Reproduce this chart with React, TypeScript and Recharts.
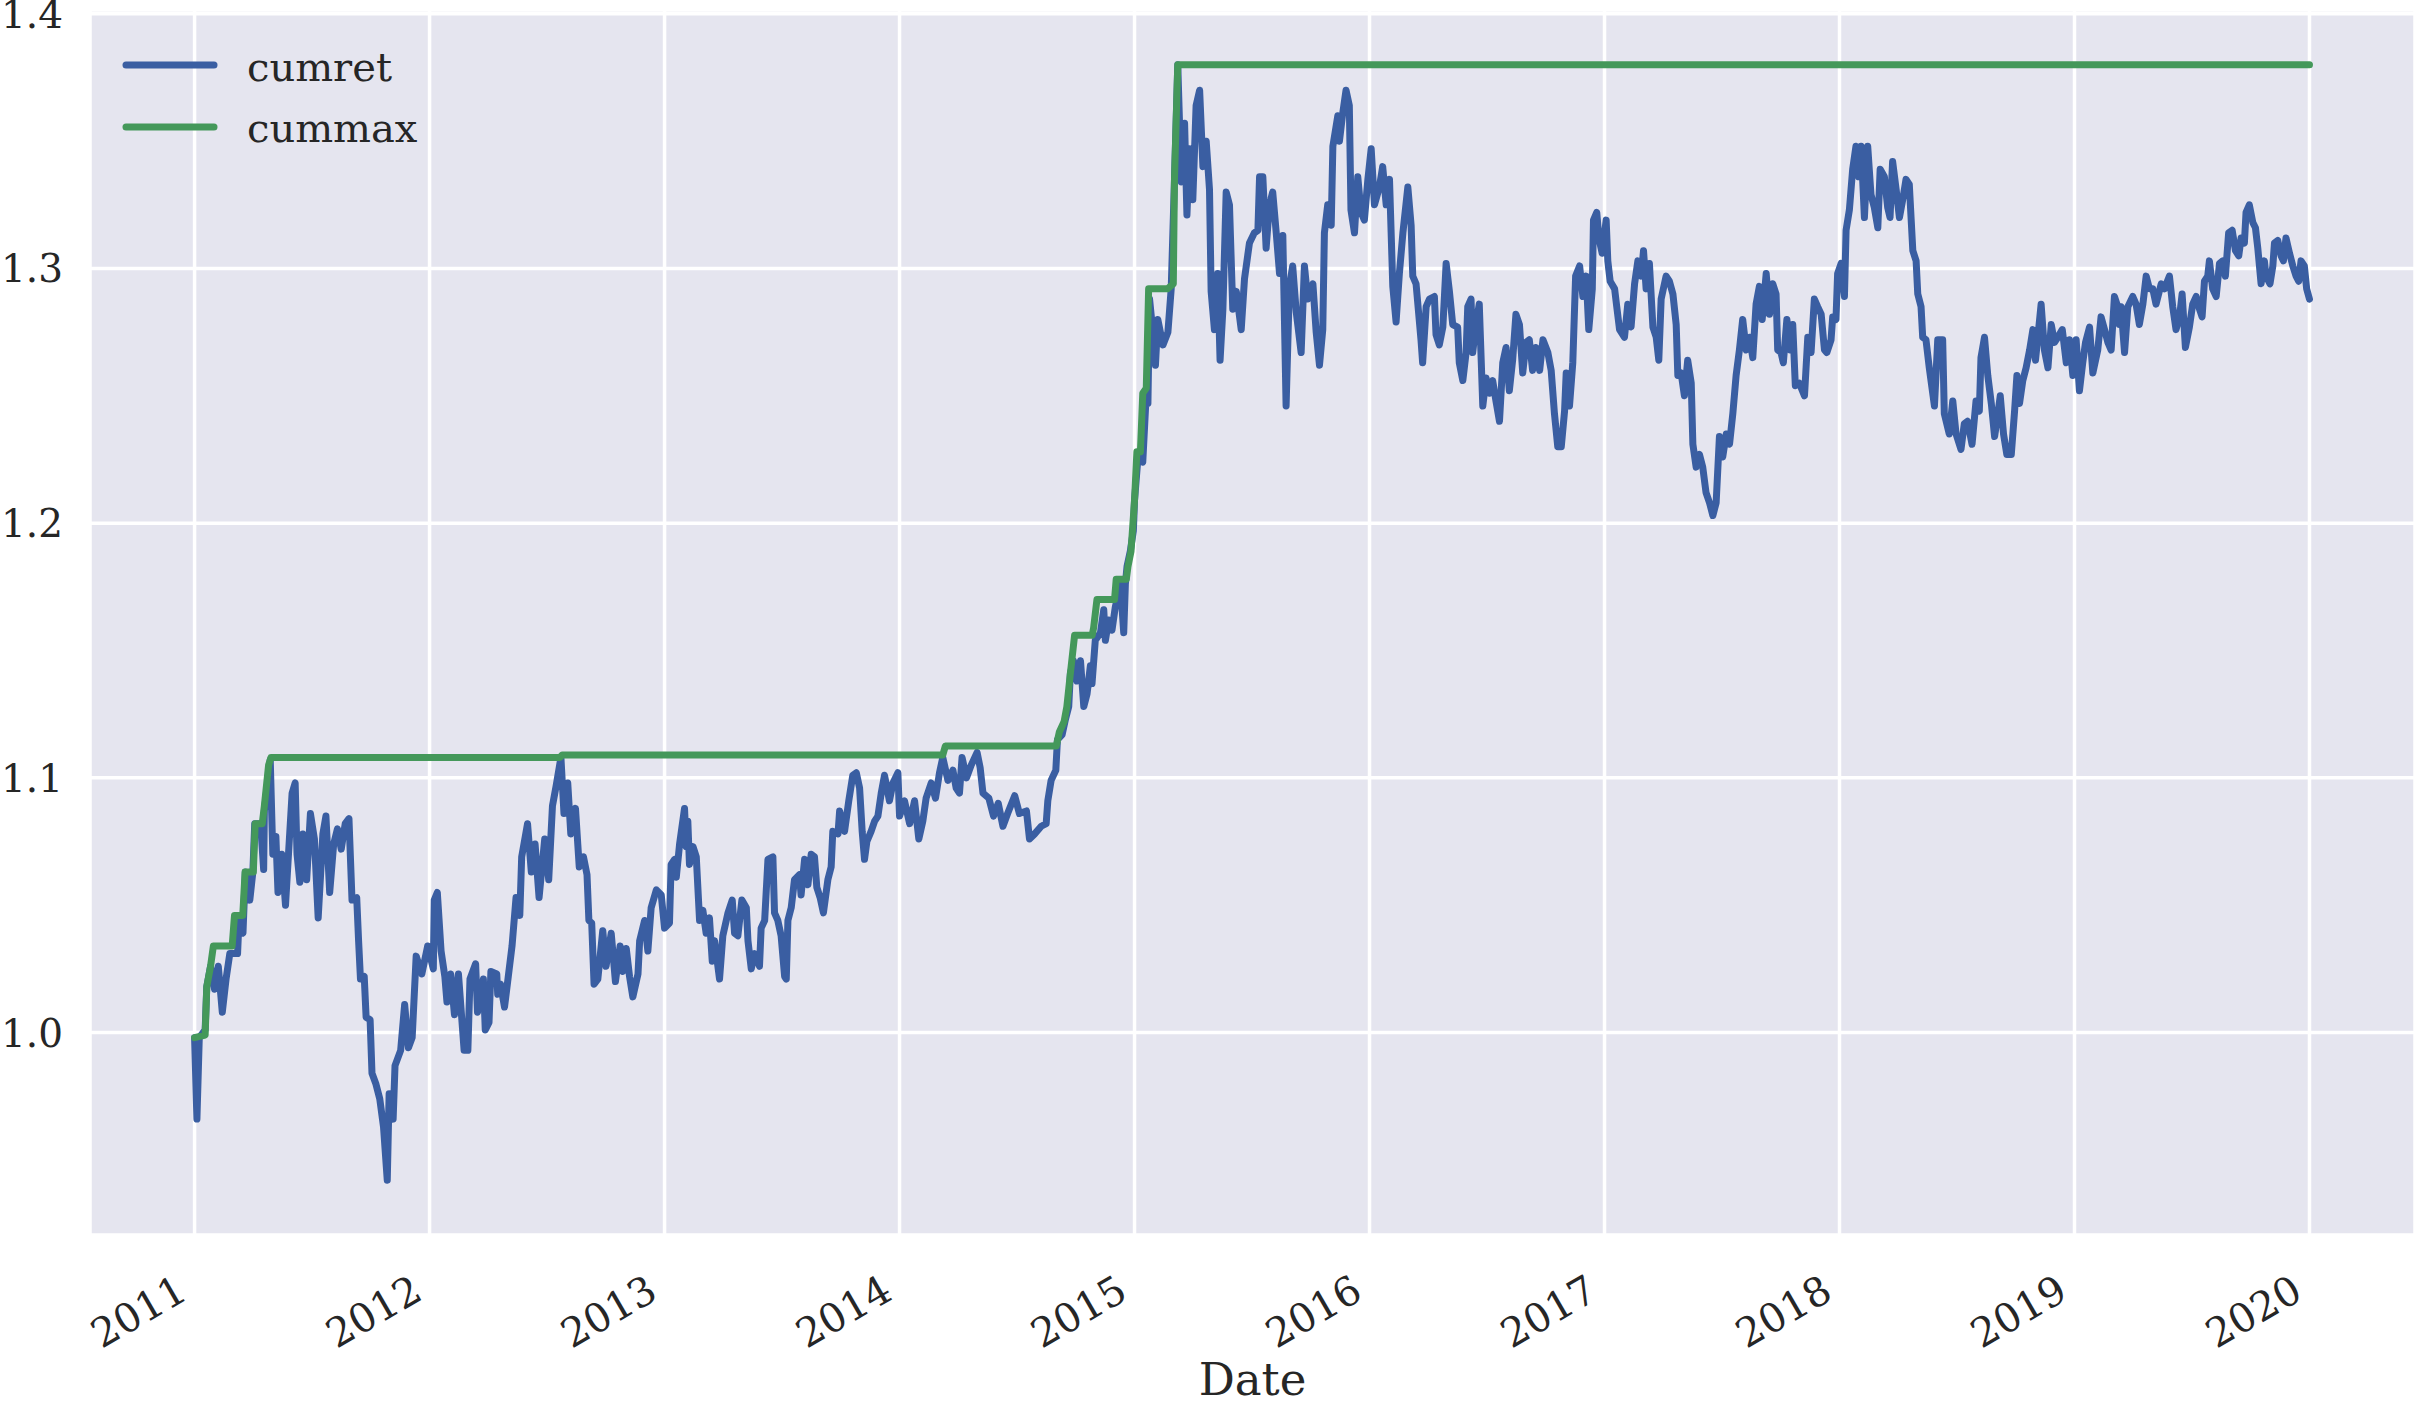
import React from 'react';
import { LineChart, Line, XAxis, YAxis, CartesianGrid, Legend } from 'recharts';

const FONT = '"DejaVu Serif", serif';
const TEXT_COLOR = '#262626';
const BLUE = '#3A5EA2';
const GREEN = '#44985A';
const LINE_W = 7;

const yearTicks = [2011, 2012, 2013, 2014, 2015, 2016, 2017, 2018, 2019, 2020];
const valueTicks = [1.0, 1.1, 1.2, 1.3, 1.4];
const seriesNames = ['cumret', 'cummax'];

// dates as fractional years
const cumretDates = [
  2011.000, 2011.010, 2011.020, 2011.045, 2011.052, 2011.068, 2011.085, 2011.101, 2011.118, 2011.134,
  2011.150, 2011.183, 2011.190, 2011.206, 2011.216, 2011.235, 2011.248, 2011.256, 2011.281, 2011.294,
  2011.297, 2011.322, 2011.333, 2011.346, 2011.355, 2011.371, 2011.387, 2011.399, 2011.415, 2011.428,
  2011.436, 2011.448, 2011.461, 2011.477, 2011.493, 2011.510, 2011.526, 2011.546, 2011.559, 2011.575,
  2011.592, 2011.608, 2011.624, 2011.641, 2011.657, 2011.670, 2011.690, 2011.698, 2011.706, 2011.722,
  2011.730, 2011.747, 2011.755, 2011.771, 2011.788, 2011.804, 2011.820, 2011.828, 2011.845, 2011.853,
  2011.877, 2011.894, 2011.910, 2011.926, 2011.943, 2011.967, 2011.992, 2012.016, 2012.020, 2012.033,
  2012.049, 2012.065, 2012.074, 2012.090, 2012.106, 2012.123, 2012.147, 2012.163, 2012.172, 2012.196,
  2012.204, 2012.229, 2012.237, 2012.253, 2012.261, 2012.286, 2012.290, 2012.302, 2012.319, 2012.335,
  2012.351, 2012.368, 2012.384, 2012.392, 2012.417, 2012.433, 2012.449, 2012.466, 2012.490, 2012.507,
  2012.523, 2012.539, 2012.559, 2012.572, 2012.588, 2012.601, 2012.621, 2012.637, 2012.655, 2012.670,
  2012.678, 2012.690, 2012.700, 2012.716, 2012.737, 2012.751, 2012.773, 2012.791, 2012.811, 2012.822,
  2012.837, 2012.851, 2012.865, 2012.887, 2012.894, 2012.915, 2012.929, 2012.943, 2012.965, 2012.986,
  2013.000, 2013.021, 2013.028, 2013.043, 2013.050, 2013.064, 2013.085, 2013.092, 2013.099, 2013.106,
  2013.121, 2013.135, 2013.149, 2013.163, 2013.177, 2013.191, 2013.203, 2013.213, 2013.234, 2013.248,
  2013.270, 2013.288, 2013.298, 2013.312, 2013.329, 2013.348, 2013.355, 2013.369, 2013.383, 2013.404,
  2013.411, 2013.426, 2013.440, 2013.461, 2013.468, 2013.482, 2013.496, 2013.511, 2013.518, 2013.525,
  2013.539, 2013.553, 2013.574, 2013.581, 2013.596, 2013.610, 2013.624, 2013.638, 2013.648, 2013.662,
  2013.676, 2013.695, 2013.709, 2013.716, 2013.738, 2013.745, 2013.766, 2013.784, 2013.801, 2013.816,
  2013.830, 2013.841, 2013.851, 2013.861, 2013.879, 2013.894, 2013.908, 2013.922, 2013.936, 2013.957,
  2013.972, 2013.993, 2014.000, 2014.021, 2014.043, 2014.064, 2014.082, 2014.099, 2014.113, 2014.135,
  2014.153, 2014.170, 2014.184, 2014.206, 2014.227, 2014.241, 2014.255, 2014.266, 2014.285, 2014.305,
  2014.330, 2014.343, 2014.355, 2014.380, 2014.400, 2014.420, 2014.440, 2014.460, 2014.490, 2014.510,
  2014.540, 2014.553, 2014.575, 2014.603, 2014.624, 2014.631, 2014.645, 2014.665, 2014.672, 2014.692,
  2014.706, 2014.720, 2014.727, 2014.740, 2014.755, 2014.770, 2014.784, 2014.798, 2014.812, 2014.819,
  2014.833, 2014.855, 2014.869, 2014.876, 2014.890, 2014.904, 2014.918, 2014.940, 2014.954, 2014.961,
  2014.968, 2014.982, 2014.995, 2015.000, 2015.014, 2015.035, 2015.050, 2015.057, 2015.064, 2015.078,
  2015.089, 2015.099, 2015.121, 2015.142, 2015.156, 2015.170, 2015.184, 2015.199, 2015.213, 2015.223,
  2015.234, 2015.248, 2015.262, 2015.277, 2015.291, 2015.305, 2015.319, 2015.326, 2015.340, 2015.354,
  2015.364, 2015.376, 2015.390, 2015.404, 2015.418, 2015.433, 2015.454, 2015.468, 2015.489, 2015.510,
  2015.525, 2015.532, 2015.546, 2015.560, 2015.574, 2015.588, 2015.603, 2015.617, 2015.631, 2015.645,
  2015.659, 2015.673, 2015.688, 2015.709, 2015.723, 2015.737, 2015.759, 2015.773, 2015.787, 2015.801,
  2015.808, 2015.822, 2015.837, 2015.844, 2015.865, 2015.872, 2015.886, 2015.900, 2015.914, 2015.921,
  2015.936, 2015.950, 2015.964, 2015.978, 2015.993, 2016.007, 2016.021, 2016.042, 2016.056, 2016.071,
  2016.085, 2016.099, 2016.113, 2016.127, 2016.142, 2016.163, 2016.177, 2016.184, 2016.198, 2016.219,
  2016.226, 2016.241, 2016.255, 2016.276, 2016.283, 2016.297, 2016.312, 2016.326, 2016.340, 2016.354,
  2016.375, 2016.382, 2016.397, 2016.411, 2016.418, 2016.432, 2016.439, 2016.453, 2016.467, 2016.482,
  2016.496, 2016.510, 2016.524, 2016.538, 2016.553, 2016.567, 2016.581, 2016.595, 2016.609, 2016.623,
  2016.638, 2016.652, 2016.666, 2016.680, 2016.694, 2016.708, 2016.724, 2016.738, 2016.759, 2016.773,
  2016.787, 2016.801, 2016.816, 2016.830, 2016.837, 2016.851, 2016.865, 2016.877, 2016.894, 2016.908,
  2016.922, 2016.933, 2016.948, 2016.953, 2016.967, 2016.976, 2016.990, 2017.007, 2017.014, 2017.024,
  2017.043, 2017.052, 2017.064, 2017.085, 2017.099, 2017.113, 2017.128, 2017.142, 2017.156, 2017.166,
  2017.177, 2017.191, 2017.206, 2017.220, 2017.231, 2017.241, 2017.262, 2017.276, 2017.291, 2017.305,
  2017.312, 2017.326, 2017.340, 2017.354, 2017.369, 2017.376, 2017.390, 2017.404, 2017.418, 2017.432,
  2017.447, 2017.461, 2017.475, 2017.489, 2017.503, 2017.518, 2017.532, 2017.546, 2017.560, 2017.574,
  2017.588, 2017.603, 2017.617, 2017.631, 2017.645, 2017.659, 2017.671, 2017.688, 2017.702, 2017.716,
  2017.730, 2017.737, 2017.751, 2017.761, 2017.776, 2017.790, 2017.801, 2017.812, 2017.829, 2017.851,
  2017.865, 2017.879, 2017.893, 2017.907, 2017.922, 2017.936, 2017.946, 2017.964, 2017.971, 2017.985,
  2017.992, 2018.007, 2018.021, 2018.028, 2018.042, 2018.056, 2018.070, 2018.082, 2018.092, 2018.106,
  2018.120, 2018.134, 2018.148, 2018.163, 2018.173, 2018.191, 2018.205, 2018.215, 2018.226, 2018.241,
  2018.255, 2018.269, 2018.283, 2018.297, 2018.312, 2018.326, 2018.333, 2018.347, 2018.354, 2018.368,
  2018.382, 2018.404, 2018.418, 2018.439, 2018.446, 2018.467, 2018.482, 2018.496, 2018.517, 2018.531,
  2018.545, 2018.564, 2018.581, 2018.595, 2018.602, 2018.617, 2018.631, 2018.646, 2018.660, 2018.674,
  2018.684, 2018.698, 2018.712, 2018.731, 2018.745, 2018.755, 2018.766, 2018.780, 2018.794, 2018.809,
  2018.823, 2018.834, 2018.844, 2018.858, 2018.872, 2018.887, 2018.901, 2018.915, 2018.929, 2018.948,
  2018.965, 2018.979, 2018.993, 2019.007, 2019.021, 2019.035, 2019.047, 2019.064, 2019.078, 2019.099,
  2019.113, 2019.128, 2019.142, 2019.156, 2019.170, 2019.184, 2019.191, 2019.198, 2019.213, 2019.227,
  2019.248, 2019.262, 2019.276, 2019.291, 2019.305, 2019.319, 2019.333, 2019.347, 2019.369, 2019.383,
  2019.404, 2019.418, 2019.432, 2019.447, 2019.458, 2019.472, 2019.489, 2019.503, 2019.518, 2019.532,
  2019.543, 2019.553, 2019.567, 2019.574, 2019.588, 2019.603, 2019.617, 2019.631, 2019.642, 2019.656,
  2019.671, 2019.685, 2019.699, 2019.709, 2019.723, 2019.730, 2019.744, 2019.759, 2019.770, 2019.780,
  2019.794, 2019.808, 2019.815, 2019.832, 2019.844, 2019.851, 2019.865, 2019.879, 2019.889, 2019.900,
  2019.915, 2019.929, 2019.943, 2019.954, 2019.964, 2019.978, 2019.988, 2020.000,
];

const cumretValues = [
  0.998, 0.966, 0.998, 1.001, 1.018, 1.026, 1.017, 1.026, 1.008, 1.021,
  1.031, 1.031, 1.046, 1.039, 1.063, 1.052, 1.063, 1.082, 1.082, 1.064,
  1.087, 1.107, 1.070, 1.077, 1.055, 1.070, 1.050, 1.069, 1.094, 1.098,
  1.070, 1.059, 1.078, 1.060, 1.086, 1.076, 1.045, 1.078, 1.085, 1.055,
  1.074, 1.080, 1.072, 1.082, 1.084, 1.052, 1.053, 1.036, 1.021, 1.022,
  1.006, 1.005, 0.984, 0.980, 0.974, 0.963, 0.942, 0.976, 0.966, 0.987,
  0.993, 1.011, 0.994, 0.998, 1.030, 1.023, 1.034, 1.025, 1.052, 1.055,
  1.032, 1.022, 1.012, 1.023, 1.007, 1.023, 0.993, 0.993, 1.021, 1.027,
  1.008, 1.021, 1.001, 1.004, 1.024, 1.023, 1.015, 1.019, 1.010, 1.022,
  1.034, 1.053, 1.046, 1.069, 1.082, 1.063, 1.074, 1.053, 1.076, 1.060,
  1.089, 1.097, 1.108, 1.086, 1.098, 1.078, 1.088, 1.065, 1.069, 1.062,
  1.044, 1.043, 1.019, 1.021, 1.040, 1.026, 1.039, 1.020, 1.034, 1.024,
  1.033, 1.022, 1.014, 1.023, 1.036, 1.044, 1.032, 1.049, 1.056, 1.054,
  1.041, 1.043, 1.066, 1.068, 1.061, 1.074, 1.088, 1.073, 1.083, 1.066,
  1.073, 1.069, 1.044, 1.048, 1.039, 1.045, 1.028, 1.036, 1.021, 1.038,
  1.047, 1.052, 1.039, 1.038, 1.052, 1.049, 1.036, 1.025, 1.031, 1.026,
  1.041, 1.044, 1.068, 1.069, 1.047, 1.044, 1.038, 1.022, 1.021, 1.044,
  1.049, 1.060, 1.062, 1.054, 1.068, 1.058, 1.070, 1.069, 1.057, 1.053,
  1.047, 1.060, 1.065, 1.079, 1.078, 1.087, 1.079, 1.091, 1.101, 1.102,
  1.096, 1.079, 1.068, 1.075, 1.079, 1.083, 1.085, 1.094, 1.101, 1.091,
  1.098, 1.102, 1.085, 1.091, 1.082, 1.091, 1.076, 1.083, 1.092, 1.098,
  1.092, 1.102, 1.108, 1.099, 1.103, 1.096, 1.094, 1.108, 1.100, 1.105,
  1.110, 1.104, 1.094, 1.092, 1.085, 1.090, 1.081, 1.086, 1.093, 1.086,
  1.087, 1.076, 1.078, 1.081, 1.082, 1.091, 1.099, 1.103, 1.115, 1.117,
  1.123, 1.128, 1.141, 1.146, 1.138, 1.146, 1.128, 1.133, 1.144, 1.137,
  1.154, 1.157, 1.166, 1.154, 1.162, 1.158, 1.167, 1.176, 1.157, 1.176,
  1.183, 1.189, 1.197, 1.209, 1.225, 1.224, 1.251, 1.247, 1.288, 1.275,
  1.262, 1.280, 1.270, 1.275, 1.292, 1.335, 1.380, 1.334, 1.357, 1.321,
  1.347, 1.327, 1.364, 1.370, 1.340, 1.350, 1.331, 1.291, 1.276, 1.298,
  1.264, 1.284, 1.330, 1.325, 1.284, 1.291, 1.276, 1.296, 1.310, 1.314,
  1.315, 1.336, 1.336, 1.308, 1.325, 1.330, 1.314, 1.298, 1.313, 1.246,
  1.293, 1.301, 1.283, 1.267, 1.301, 1.288, 1.294, 1.275, 1.262, 1.276,
  1.314, 1.325, 1.317, 1.348, 1.360, 1.350, 1.361, 1.370, 1.364, 1.323,
  1.314, 1.336, 1.322, 1.319, 1.335, 1.347, 1.325, 1.332, 1.340, 1.325,
  1.335, 1.293, 1.279, 1.298, 1.314, 1.332, 1.317, 1.297, 1.294, 1.272,
  1.263, 1.285, 1.288, 1.289, 1.274, 1.270, 1.277, 1.302, 1.291, 1.278,
  1.277, 1.263, 1.256, 1.267, 1.285, 1.288, 1.267, 1.278, 1.286, 1.246,
  1.257, 1.251, 1.256, 1.248, 1.240, 1.263, 1.269, 1.252, 1.264, 1.282,
  1.278, 1.259, 1.271, 1.272, 1.260, 1.269, 1.260, 1.272, 1.267, 1.260,
  1.243, 1.230, 1.230, 1.244, 1.259, 1.246, 1.263, 1.297, 1.301, 1.289,
  1.297, 1.276, 1.292, 1.319, 1.322, 1.312, 1.306, 1.319, 1.303, 1.295,
  1.292, 1.285, 1.276, 1.273, 1.286, 1.277, 1.294, 1.303, 1.297, 1.307,
  1.292, 1.302, 1.277, 1.273, 1.264, 1.288, 1.297, 1.295, 1.290, 1.278,
  1.258, 1.259, 1.250, 1.264, 1.255, 1.231, 1.222, 1.227, 1.222, 1.212,
  1.208, 1.203, 1.208, 1.234, 1.226, 1.235, 1.231, 1.243, 1.258, 1.268,
  1.280, 1.268, 1.273, 1.265, 1.286, 1.293, 1.280, 1.298, 1.282, 1.294,
  1.290, 1.268, 1.267, 1.263, 1.280, 1.268, 1.278, 1.254, 1.255, 1.250,
  1.273, 1.267, 1.288, 1.285, 1.282, 1.268, 1.267, 1.272, 1.281, 1.280,
  1.298, 1.302, 1.289, 1.315, 1.323, 1.339, 1.348, 1.336, 1.348, 1.320,
  1.348, 1.329, 1.324, 1.316, 1.339, 1.336, 1.324, 1.320, 1.342, 1.331,
  1.320, 1.327, 1.335, 1.333, 1.307, 1.303, 1.290, 1.285, 1.273, 1.272,
  1.261, 1.246, 1.272, 1.272, 1.243, 1.235, 1.248, 1.235, 1.229, 1.239,
  1.240, 1.231, 1.248, 1.244, 1.265, 1.273, 1.258, 1.247, 1.234, 1.243,
  1.250, 1.235, 1.227, 1.227, 1.244, 1.258, 1.247, 1.256, 1.261, 1.268,
  1.276, 1.264, 1.273, 1.286, 1.268, 1.261, 1.278, 1.271, 1.273, 1.276,
  1.263, 1.272, 1.258, 1.272, 1.252, 1.263, 1.271, 1.277, 1.259, 1.268,
  1.281, 1.276, 1.271, 1.268, 1.289, 1.285, 1.278, 1.285, 1.267, 1.285,
  1.289, 1.286, 1.278, 1.286, 1.297, 1.292, 1.292, 1.286, 1.294, 1.292,
  1.297, 1.285, 1.276, 1.281, 1.290, 1.269, 1.277, 1.286, 1.289, 1.284,
  1.281, 1.295, 1.297, 1.303, 1.292, 1.289, 1.302, 1.303, 1.297, 1.314,
  1.315, 1.307, 1.305, 1.312, 1.310, 1.322, 1.325, 1.318, 1.316, 1.308,
  1.294, 1.303, 1.297, 1.294, 1.301, 1.310, 1.311, 1.305, 1.303, 1.312,
  1.306, 1.301, 1.297, 1.295, 1.303, 1.301, 1.292, 1.288,
];

const cummaxDates = [
  2011.000, 2011.045, 2011.052, 2011.068, 2011.080, 2011.160, 2011.170, 2011.205, 2011.215, 2011.250,
  2011.258, 2011.288, 2011.297, 2011.315, 2011.325, 2012.555, 2012.565, 2014.184, 2014.195, 2014.667,
  2014.680, 2014.700, 2014.712, 2014.727, 2014.745, 2014.820, 2014.826, 2014.840, 2014.915, 2014.922,
  2014.965, 2014.972, 2014.985, 2015.000, 2015.010, 2015.025, 2015.035, 2015.050, 2015.060, 2015.140,
  2015.165, 2015.170, 2015.184, 2020.000,
];

const cummaxValues = [
  0.998, 0.999, 1.018, 1.026, 1.034, 1.034, 1.046, 1.046, 1.063, 1.063,
  1.082, 1.082, 1.089, 1.105, 1.108, 1.108, 1.109, 1.109, 1.1125, 1.1125,
  1.118, 1.122, 1.128, 1.141, 1.156, 1.156, 1.159, 1.170, 1.170, 1.178,
  1.178, 1.183, 1.189, 1.209, 1.228, 1.228, 1.251, 1.253, 1.292, 1.292,
  1.294, 1.335, 1.380, 1.380,
];

const cumretData = cumretDates.map((t, i) => ({ t, v: cumretValues[i] }));
const cummaxData = cummaxDates.map((t, i) => ({ t, v: cummaxValues[i] }));

const XTick = (props: any) => {
  const { x, y, payload } = props;
  return (
    <text
      transform={`translate(${x - 5}, ${y + 63}) rotate(-30)`}
      textAnchor="end"
      fontFamily={FONT}
      fontSize={40}
      fill={TEXT_COLOR}
    >
      {String(payload.value)}
    </text>
  );
};

const YTick = (props: any) => {
  const { x, y, payload } = props;
  return (
    <text
      x={x - 27}
      y={y + 14}
      textAnchor="end"
      fontFamily={FONT}
      fontSize={39}
      fill={TEXT_COLOR}
    >
      {Number(payload.value).toFixed(1)}
    </text>
  );
};

const LegendContent = (props: any) => {
  const payload = [...(props.payload || [])].sort(
    (a: any, b: any) => seriesNames.indexOf(a.value) - seriesNames.indexOf(b.value)
  );
  return (
    <svg width={500} height={200} style={{ display: 'block' }}>
      {payload.map((entry: any, i: number) => (
        <g key={i}>
          <line
            x1={126}
            x2={214}
            y1={65 + 62 * i}
            y2={65 + 62 * i}
            stroke={entry.color}
            strokeWidth={LINE_W}
            strokeLinecap="round"
          />
          <text x={247} y={81 + 61 * i} fontFamily={FONT} fontSize={40} fill={TEXT_COLOR}>
            {entry.value}
          </text>
        </g>
      ))}
    </svg>
  );
};

const DateLabel = (props: any) => {
  const vb = props.viewBox || { x: 90, y: 1235, width: 2325, height: 171 };
  return (
    <text
      x={vb.x + vb.width / 2}
      y={vb.y + 160}
      textAnchor="middle"
      fontFamily={FONT}
      fontSize={45}
      fill={TEXT_COLOR}
    >
      Date
    </text>
  );
};

export default function App() {
  return (
    <div style={{ position: 'absolute', left: 0, top: 0, width: 2415, height: 1406, background: '#ffffff' }}>
      <LineChart width={2415} height={1406} margin={{ top: 10, right: 0, bottom: 0, left: 0 }}>
        <CartesianGrid stroke="#ffffff" strokeWidth={3.5} fill="#E5E5EF" fillOpacity={1} />
        <XAxis
          type="number"
          dataKey="t"
          domain={[2010.555, 2020.449]}
          ticks={yearTicks}
          allowDataOverflow
          height={171}
          axisLine={false}
          tickLine={false}
          tickSize={0}
          tickMargin={0}
          tick={<XTick />}
          interval={0}
          label={DateLabel}
        />
        <YAxis
          type="number"
          domain={[0.9205, 1.4015]}
          ticks={valueTicks}
          allowDataOverflow
          width={90}
          axisLine={false}
          tickLine={false}
          tickSize={0}
          tickMargin={0}
          tick={<YTick />}
          interval={0}
        />
        <Line
          data={cumretData}
          dataKey="v"
          name={seriesNames[0]}
          type="linear"
          stroke={BLUE}
          strokeWidth={LINE_W}
          strokeLinejoin="round"
          strokeLinecap="round"
          dot={false}
          activeDot={false}
          isAnimationActive={false}
        />
        <Line
          data={cummaxData}
          dataKey="v"
          name={seriesNames[1]}
          type="linear"
          stroke={GREEN}
          strokeWidth={LINE_W}
          strokeLinejoin="round"
          strokeLinecap="round"
          dot={false}
          activeDot={false}
          isAnimationActive={false}
        />
        <Legend
          layout="vertical"
          align="center"
          verticalAlign="middle"
          wrapperStyle={{ left: 0, top: 0, width: 500, height: 200 }}
          content={<LegendContent />}
        />
      </LineChart>
    </div>
  );
}
